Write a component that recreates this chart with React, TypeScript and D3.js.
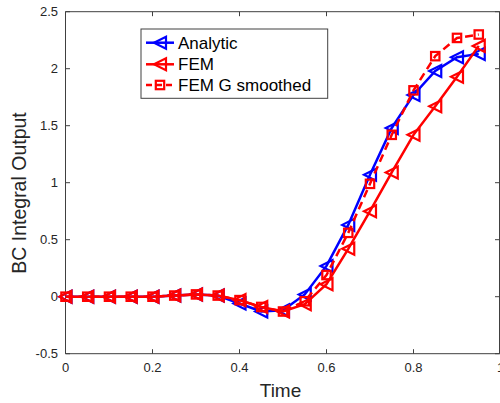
import React from "react";
import * as d3 from "d3";

const times = [0, 0.05, 0.1, 0.15, 0.2, 0.25, 0.3, 0.35, 0.4, 0.45, 0.5, 0.55, 0.6, 0.65, 0.7, 0.75, 0.8, 0.85, 0.9, 0.95];
const analytic = [0, 0, 0, 0, 0, 0.01, 0.02, 0.01, -0.06, -0.13, -0.12, 0.02, 0.27, 0.63, 1.07, 1.48, 1.77, 1.98, 2.1, 2.13];
const fem = [0, 0, 0, 0, 0, 0.01, 0.02, 0.01, -0.03, -0.09, -0.13, -0.065, 0.11, 0.42, 0.75, 1.09, 1.42, 1.67, 1.93, 2.2];
const femSmoothed = [0, 0, 0, 0, 0, 0.01, 0.02, 0.01, -0.03, -0.09, -0.13, -0.04, 0.19, 0.56, 0.99, 1.42, 1.81, 2.11, 2.27, 2.3];
const xTicks = [0, 0.2, 0.4, 0.6, 0.8, 1];
const yTicks = [-0.5, 0, 0.5, 1, 1.5, 2, 2.5];
const legendLabels = ["Analytic", "FEM", "FEM G smoothed"];

const W = 500, H = 403;
const L = 65.5, R = 500.5, T = 11.7, B = 353.7;

const x = d3.scaleLinear().domain([0, 1]).range([L, R]);
const y = d3.scaleLinear().domain([-0.5, 2.5]).range([B, T]);

const BLUE = "#0000ff";
const RED = "#ff0000";
const AX = "#404040";
const FONT = "Liberation Sans, Arial, Helvetica, sans-serif";

function Tri({ cx, cy, color }: { cx: number; cy: number; color: string }) {
  const s = 6;
  const pts = `${cx - s},${cy} ${cx + s},${cy - s} ${cx + s},${cy + s}`;
  return <polygon points={pts} fill="none" stroke={color} strokeWidth={2.2} strokeLinejoin="miter" />;
}
function Sq({ cx, cy, color }: { cx: number; cy: number; color: string }) {
  const s = 4.2;
  return <rect x={cx - s} y={cy - s} width={2 * s} height={2 * s} fill="none" stroke={color} strokeWidth={2.2} />;
}

export default function App() {
  const line = d3.line<[number, number]>().x((d) => x(d[0])).y((d) => y(d[1]));
  const ptsA = times.map((t, i) => [t, analytic[i]] as [number, number]);
  const ptsF = times.map((t, i) => [t, fem[i]] as [number, number]);
  const ptsS = times.map((t, i) => [t, femSmoothed[i]] as [number, number]);

  const legX = 141, legY = 29, legW = 186.7, legH = 69.3;
  const rows = [42.7, 64.3, 85];

  return (
    <svg width={W} height={H} style={{ position: "absolute", left: 0, top: 0, background: "#fff" }} fontFamily={FONT}>
      <rect x={0} y={0} width={W} height={H} fill="#fff" />
      <g stroke={AX} strokeWidth={1} fill="none">
        <line x1={L} y1={B} x2={R} y2={B} />
        <line x1={L} y1={T} x2={R} y2={T} />
        <line x1={L} y1={T} x2={L} y2={B} />
        <line x1={499.5} y1={T} x2={499.5} y2={B} />
        {xTicks.map((t) => (
          <g key={"xt" + t}>
            <line x1={x(t)} y1={B} x2={x(t)} y2={B - 4.5} />
            <line x1={x(t)} y1={T} x2={x(t)} y2={T + 4.5} />
          </g>
        ))}
        {yTicks.map((t) => (
          <g key={"yt" + t}>
            <line x1={L} y1={y(t)} x2={L + 4.5} y2={y(t)} />
            <line x1={499.5} y1={y(t)} x2={495} y2={y(t)} />
          </g>
        ))}
      </g>
      {xTicks.map((t) => (
        <text key={"xl" + t} x={x(t)} y={B + 18.5} textAnchor="middle" fontSize={13} fill="#262626">
          {String(t)}
        </text>
      ))}
      {yTicks.map((t) => (
        <text key={"yl" + t} x={L - 7.5} y={y(t) + 4.6} textAnchor="end" fontSize={13} fill="#262626">
          {String(t)}
        </text>
      ))}
      <text x={280.5} y={396.5} textAnchor="middle" fontSize={19} fill="#262626">Time</text>
      <text transform={`translate(26,193) rotate(-90)`} textAnchor="middle" fontSize={19.5} fill="#262626">
        BC Integral Output
      </text>

      <path d={line(ptsA) || ""} fill="none" stroke={BLUE} strokeWidth={2.5} />
      {ptsA.map((p, i) => <Tri key={"a" + i} cx={x(p[0])} cy={y(p[1])} color={BLUE} />)}
      <path d={line(ptsF) || ""} fill="none" stroke={RED} strokeWidth={2.5} />
      {ptsF.map((p, i) => <Tri key={"f" + i} cx={x(p[0])} cy={y(p[1])} color={RED} />)}
      <path d={line(ptsS) || ""} fill="none" stroke={RED} strokeWidth={2.5} strokeDasharray="8,5" />
      {ptsS.map((p, i) => <Sq key={"s" + i} cx={x(p[0])} cy={y(p[1])} color={RED} />)}

      <rect x={legX} y={legY} width={legW} height={legH} fill="#fff" stroke={AX} strokeWidth={1} />
      {legendLabels.map((lab, i) => {
        const cy = rows[i];
        const color = i === 0 ? BLUE : RED;
        return (
          <g key={lab}>
            <line x1={146} y1={cy} x2={174} y2={cy} stroke={color} strokeWidth={2.5} strokeDasharray={i === 2 ? "6,4" : undefined} />
            {i === 2 ? <Sq cx={160} cy={cy} color={color} /> : <Tri cx={160} cy={cy} color={color} />}
            <text x={178} y={cy + 6} fontSize={17} fill="#000">{lab}</text>
          </g>
        );
      })}
    </svg>
  );
}
